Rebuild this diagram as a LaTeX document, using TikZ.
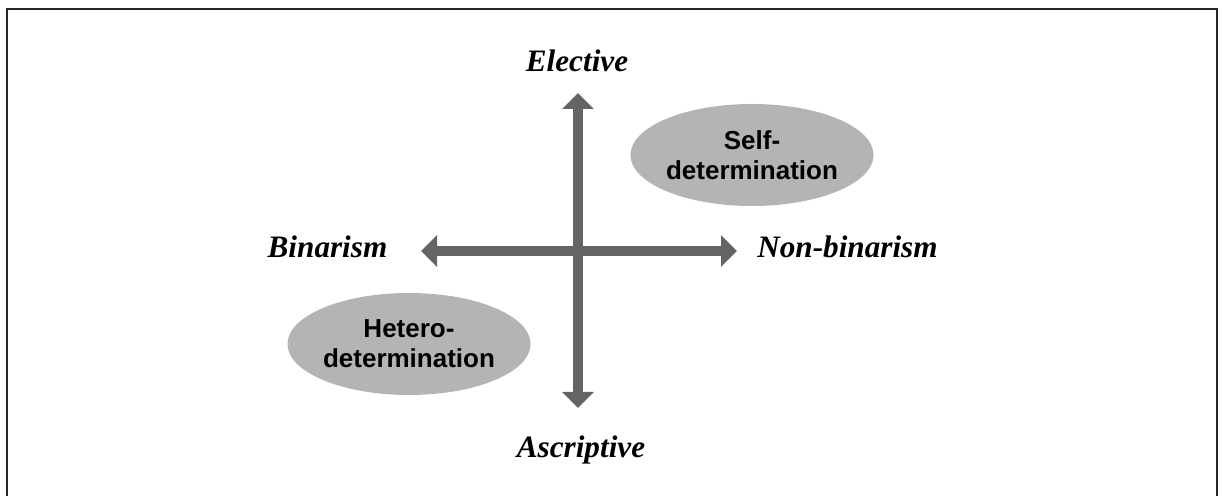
\documentclass[tikz,border=0pt]{standalone}
\usepackage{fontspec}
\setmainfont{Liberation Serif}
\setsansfont{Liberation Sans}
\usetikzlibrary{arrows.meta, positioning, shapes.geometric}

\definecolor{axisgray}{RGB}{100,100,100}
\definecolor{blobgray}{RGB}{180,180,180}
\tikzset{
  axis/.style={line width=5pt, color=axisgray,
    {Triangle[width=15.5pt,length=8pt]}-{Triangle[width=15.5pt,length=8pt]}},
  pole/.style={anchor=base, font=\fontsize{15.6}{19}\selectfont\bfseries\itshape},
  blob/.style={ellipse, fill=blobgray, inner sep=0pt, align=center,
    minimum width=121.5pt, minimum height=51pt,
    font=\fontsize{13}{15}\selectfont\sffamily\bfseries}
}

\begin{document}
\begin{tikzpicture}[x=0.5pt,y=-0.5pt]
\useasboundingbox (0,0) rectangle (1222,496);
\draw[line width=0.8pt, color=black!85] (7,510) -- (7,9) -- (1217,9) -- (1217,510);
\coordinate (top) at (578,93);
\coordinate (bot) at (578,408);
\coordinate (left) at (421,251);
\coordinate (right) at (737,251);
\draw[axis] (bot) -- (top);
\draw[axis] (left) -- (right);
\node[pole] (elective) at (577,72) {Elective};
\node[pole] (ascriptive) at (581,458) {Ascriptive};
\node[pole] (binarism) at (327.5,258) {Binarism};
\node[pole] (nonbinarism) at (847.5,258) {Non-binarism};
\node[blob] (self) at (752,155) {Self-\\determination};
\node[blob] (hetero) at (409,344) {Hetero-\\determination};
\end{tikzpicture}
\end{document}
